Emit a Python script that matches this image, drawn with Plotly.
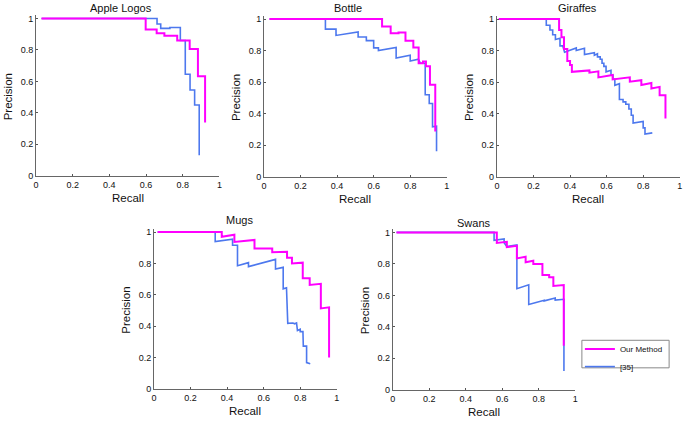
import plotly.graph_objects as go

W, H = 685, 422

# ---------------- data (recall / precision vertices) ----------------
titles = ["Apple Logos", "Bottle", "Giraffes", "Mugs", "Swans"]
series_names = ["Our Method", "[35]"]
tick_vals = [0, 0.2, 0.4, 0.6, 0.8, 1]
tick_text = ["0", "0.2", "0.4", "0.6", "0.8", "1"]

apple_ours_recall = [0.03, 0.598, 0.598, 0.658, 0.658, 0.70, 0.70, 0.77, 0.77, 0.838, 0.838, 0.883, 0.883, 0.922, 0.922]
apple_ours_precision = [1, 1, 0.93, 0.93, 0.905, 0.905, 0.89, 0.89, 0.86, 0.86, 0.806, 0.806, 0.632, 0.632, 0.338]
apple_ref_recall = [0.03, 0.66, 0.66, 0.68, 0.68, 0.73, 0.73, 0.787, 0.787, 0.814, 0.814, 0.84, 0.84, 0.865, 0.865, 0.89, 0.89]
apple_ref_precision = [1, 1, 0.965, 0.965, 0.937, 0.937, 0.942, 0.942, 0.86, 0.86, 0.645, 0.645, 0.545, 0.545, 0.45, 0.45, 0.13]

bottle_ours_recall = [0.03, 0.646, 0.646, 0.693, 0.693, 0.736, 0.736, 0.774, 0.774, 0.817, 0.817, 0.846, 0.846, 0.87, 0.87, 0.886, 0.886, 0.908, 0.908, 0.937, 0.937]
bottle_ours_precision = [1, 1, 0.952, 0.952, 0.91, 0.91, 0.915, 0.915, 0.863, 0.863, 0.82, 0.82, 0.72, 0.72, 0.73, 0.73, 0.70, 0.70, 0.584, 0.584, 0.287]
bottle_ref_recall = [0.03, 0.336, 0.336, 0.394, 0.394, 0.515, 0.515, 0.56, 0.56, 0.60, 0.60, 0.626, 0.626, 0.723, 0.723, 0.80, 0.80, 0.845, 0.855, 0.882, 0.882, 0.904, 0.904, 0.922, 0.922, 0.944, 0.944]
bottle_ref_precision = [1, 1, 0.936, 0.936, 0.896, 0.918, 0.886, 0.886, 0.863, 0.863, 0.817, 0.817, 0.80, 0.82, 0.753, 0.77, 0.734, 0.745, 0.72, 0.72, 0.52, 0.52, 0.464, 0.464, 0.316, 0.32, 0.162]

giraffes_ours_recall = [0.01, 0.34, 0.34, 0.353, 0.353, 0.367, 0.367, 0.385, 0.385, 0.40, 0.40, 0.41, 0.41, 0.506, 0.506, 0.555, 0.555, 0.633, 0.633, 0.727, 0.727, 0.79, 0.79, 0.845, 0.845, 0.89, 0.89, 0.922, 0.922]
giraffes_ours_precision = [1, 1, 0.93, 0.93, 0.884, 0.884, 0.81, 0.81, 0.734, 0.734, 0.709, 0.709, 0.665, 0.674, 0.66, 0.668, 0.63, 0.645, 0.617, 0.63, 0.603, 0.612, 0.582, 0.595, 0.56, 0.57, 0.516, 0.516, 0.37]
giraffes_ref_recall = [0.01, 0.27, 0.27, 0.29, 0.29, 0.305, 0.305, 0.32, 0.32, 0.345, 0.345, 0.36, 0.37, 0.434, 0.434, 0.479, 0.479, 0.533, 0.533, 0.55, 0.55, 0.565, 0.565, 0.575, 0.575, 0.585, 0.585, 0.597, 0.597, 0.624, 0.624, 0.635, 0.635, 0.645, 0.645, 0.67, 0.67, 0.69, 0.69, 0.705, 0.705, 0.722, 0.722, 0.735, 0.735, 0.745, 0.745, 0.80, 0.80, 0.81, 0.81, 0.85]
giraffes_ref_precision = [1, 1, 0.96, 0.96, 0.93, 0.93, 0.90, 0.90, 0.87, 0.878, 0.83, 0.83, 0.79, 0.817, 0.80, 0.815, 0.775, 0.787, 0.77, 0.78, 0.76, 0.76, 0.745, 0.745, 0.72, 0.72, 0.70, 0.70, 0.665, 0.675, 0.645, 0.645, 0.62, 0.62, 0.58, 0.59, 0.49, 0.49, 0.475, 0.475, 0.46, 0.46, 0.43, 0.43, 0.39, 0.39, 0.34, 0.35, 0.31, 0.31, 0.27, 0.278]

mugs_ours_recall = [0.02, 0.371, 0.371, 0.44, 0.44, 0.55, 0.55, 0.647, 0.647, 0.728, 0.728, 0.755, 0.755, 0.814, 0.814, 0.852, 0.852, 0.913, 0.913, 0.958, 0.958]
mugs_ours_precision = [1, 1, 0.97, 0.983, 0.937, 0.95, 0.895, 0.895, 0.872, 0.875, 0.837, 0.837, 0.80, 0.805, 0.705, 0.705, 0.663, 0.67, 0.513, 0.52, 0.199]
mugs_ref_recall = [0.02, 0.335, 0.335, 0.43, 0.43, 0.457, 0.457, 0.517, 0.517, 0.665, 0.665, 0.707, 0.707, 0.725, 0.732, 0.76, 0.77, 0.78, 0.785, 0.80, 0.80, 0.815, 0.817, 0.835, 0.835, 0.855]
mugs_ref_precision = [1, 1, 0.94, 0.955, 0.916, 0.916, 0.785, 0.805, 0.78, 0.826, 0.764, 0.775, 0.638, 0.645, 0.418, 0.42, 0.415, 0.42, 0.372, 0.38, 0.365, 0.365, 0.272, 0.272, 0.167, 0.16]

swans_ours_recall = [0.02, 0.57, 0.57, 0.625, 0.625, 0.68, 0.68, 0.728, 0.728, 0.77, 0.77, 0.82, 0.82, 0.857, 0.857, 0.88, 0.88, 0.937, 0.937]
swans_ours_precision = [1, 1, 0.933, 0.94, 0.906, 0.915, 0.835, 0.845, 0.81, 0.82, 0.80, 0.80, 0.73, 0.73, 0.715, 0.715, 0.66, 0.665, 0.28]
swans_ref_recall = [0.02, 0.555, 0.555, 0.61, 0.61, 0.625, 0.68, 0.68, 0.745, 0.745, 0.83, 0.83, 0.89, 0.89, 0.938, 0.938]
swans_ref_precision = [1, 1, 0.95, 0.958, 0.935, 0.91, 0.92, 0.642, 0.667, 0.542, 0.569, 0.565, 0.583, 0.57, 0.575, 0.12]

# ---------------- layout helpers ----------------
MAGENTA = "#ff00ff"
BLUE = "#4d78ee"

# plot boxes in pixels (left, right, top(y=1), bottom(y=0))
boxes = [
    (33.3, 218.3, 16.7, 176.7),
    (263.3, 447.7, 17.3, 177.7),
    (498.3, 682.7, 17.3, 177.7),
    (152.3, 336.7, 234.0, 393.3),
    (393.3, 577.3, 234.3, 394.3),
]
title_pos = [(119, 6), (348, 6), (580, 6), (239, 222), (475, 225)]
YMAX = 1.02

data = [
    (apple_ours_recall, apple_ours_precision, apple_ref_recall, apple_ref_precision),
    (bottle_ours_recall, bottle_ours_precision, bottle_ref_recall, bottle_ref_precision),
    (giraffes_ours_recall, giraffes_ours_precision, giraffes_ref_recall, giraffes_ref_precision),
    (mugs_ours_recall, mugs_ours_precision, mugs_ref_recall, mugs_ref_precision),
    (swans_ours_recall, swans_ours_precision, swans_ref_recall, swans_ref_precision),
]

fig = go.Figure()
annotations = []
layout_axes = {}
FONT = "Liberation Sans, Arial, sans-serif"

for i, (box, (orr, orp, rr, rp)) in enumerate(zip(boxes, data)):
    n = i + 1
    xs = "" if n == 1 else str(n)
    l, r, t, b = box
    t_ext = b - (b - t) * YMAX
    axis_common = dict(
        tickvals=tick_vals, ticktext=tick_text, ticks="inside", ticklen=2,
        tickcolor="#555", showline=True, linecolor="#666", linewidth=1,
        showgrid=False, zeroline=False, tickfont=dict(size=9, color="#111", family=FONT),
        fixedrange=True,
    )
    layout_axes["xaxis" + xs] = dict(domain=[l / W, r / W], range=[0, 1], anchor="y" + xs, **axis_common)
    layout_axes["yaxis" + xs] = dict(domain=[1 - b / H, 1 - t_ext / H], range=[0, YMAX], anchor="x" + xs, **axis_common)
    fig.add_trace(go.Scatter(
        x=rr, y=rp, mode="lines", name=series_names[1], xaxis="x" + xs, yaxis="y" + xs,
        line=dict(color=BLUE, width=1.6), showlegend=(n == 5), legend="legend2",
    ))
    fig.add_trace(go.Scatter(
        x=orr, y=orp, mode="lines", name=series_names[0], xaxis="x" + xs, yaxis="y" + xs,
        line=dict(color=MAGENTA, width=2), showlegend=(n == 5), legend="legend",
    ))
    # subplot title
    tx, ty = title_pos[i]
    annotations.append(dict(text=titles[i], x=tx / W, y=1 - ty / H, xref="paper", yref="paper",
                            showarrow=False, xanchor="center", yanchor="middle",
                            font=dict(size=11, color="#111", family=FONT)))
    # axis titles
    annotations.append(dict(text="Recall", x=(l + r) / 2 / W, y=1 - (b + 22.5) / H, xref="paper", yref="paper",
                            showarrow=False, xanchor="center", yanchor="middle",
                            font=dict(size=11.5, color="#111", family=FONT)))
    annotations.append(dict(text="Precision", x=(l - 28) / W, y=1 - (t + b) / 2 / H, xref="paper", yref="paper",
                            showarrow=False, xanchor="center", yanchor="middle", textangle=-90,
                            font=dict(size=11.5, color="#111", family=FONT)))

legend_common = dict(xanchor="left", yanchor="top", borderwidth=0, bgcolor="rgba(0,0,0,0)",
                     font=dict(size=8, color="#111", family=FONT), itemwidth=30)

fig.update_layout(
    width=W, height=H, margin=dict(l=0, r=0, t=0, b=0),
    paper_bgcolor="white", plot_bgcolor="white",
    annotations=annotations,
    shapes=[dict(type="rect", xref="paper", yref="paper",
                 x0=584 / W, x1=672 / W, y0=1 - 372 / H, y1=1 - 344 / H,
                 line=dict(color="#888", width=1), fillcolor="rgba(0,0,0,0)", layer="above")],
    showlegend=True,
    legend=dict(x=582 / W, y=1 - 338 / H, **legend_common),
    legend2=dict(x=582 / W, y=1 - 356 / H, **legend_common),
    **layout_axes,
)

fig.write_html("out.html", config={"displayModeBar": False},
               post_script="document.body.style.margin='0';document.body.style.overflow='hidden';")
